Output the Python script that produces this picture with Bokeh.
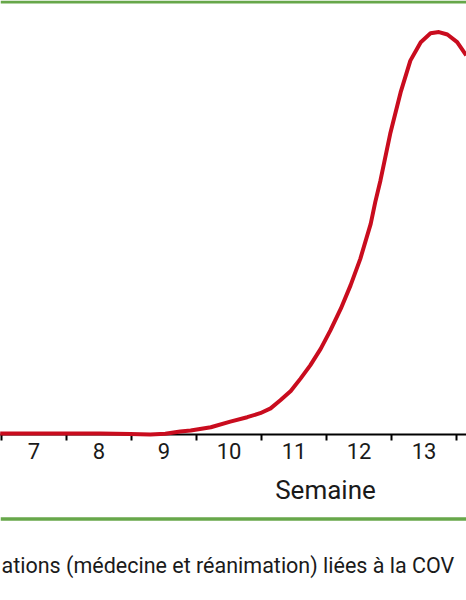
from bokeh.plotting import figure
from bokeh.models import Range1d, LinearAxis, FixedTicker, Span
from bokeh.layouts import column
from bokeh.embed import file_html
from bokeh.resources import INLINE
from bokeh.core.properties import value

# ---------------- data ----------------
weeks = [6.48, 6.95, 7.48, 8.02, 8.48, 8.79, 9.02, 9.25, 9.41, 9.72, 10.02, 10.28,
         10.48, 10.64, 10.79, 10.95, 11.1, 11.25, 11.41, 11.56, 11.72, 11.87, 12.02,
         12.18, 12.25, 12.33, 12.48, 12.64, 12.79, 12.95, 13.1, 13.23, 13.36, 13.51,
         13.65]
hospitalisations = [0.25, 0.25, 0.25, 0.25, 0.1, 0.0, 0.2, 0.75, 1.0, 1.8, 3.2, 4.3,
                    5.3, 6.5, 8.5, 10.8, 13.9, 17.2, 21.3, 25.9, 31.3, 37.1, 43.7,
                    52.4, 57.8, 63.2, 74.8, 85.1, 93.0, 97.6, 99.8, 100.1, 99.5, 97.6,
                    94.3]
week_ticks = [7, 8, 9, 10, 11, 12, 13]
week_labels = ["7", "8", "9", "10", "11", "12", "13"]
week_bounds = [6.5, 7.5, 8.5, 9.5, 10.5, 11.5, 12.5, 13.5]
x_title = "Semaine"
caption = "ations (médecine et réanimation) liées à la COV"

# ---------------- style ----------------
RED = "#c90c1e"
GREEN = "#67a74a"
INK = "#1a1a1a"
FONT = "Roboto"

W = 466
PX_PER_WEEK = 65.0
X0 = 6.5 - 1.0 / PX_PER_WEEK
X1 = X0 + W / PX_PER_WEEK
xr = Range1d(X0, X1)

FRAME_H = 434          # frame bottom = axis line
PANEL_B = 40
PX_PER_UNIT = 4.02
Y1 = FRAME_H / PX_PER_UNIT

pa = figure(width=W, height=FRAME_H + PANEL_B, x_range=xr, y_range=Range1d(0, Y1),
            x_axis_type=None, y_axis_type=None, toolbar_location=None,
            output_backend="svg", min_border_left=0, min_border_right=0,
            min_border_top=0, min_border_bottom=PANEL_B, outline_line_color=None)

ax = LinearAxis(ticker=FixedTicker(ticks=week_ticks, minor_ticks=week_bounds),
                major_label_overrides={t: l for t, l in zip(week_ticks, week_labels)})
ax.axis_line_color = "black"
ax.axis_line_width = 2
ax.major_tick_in = 0
ax.major_tick_out = 0
ax.minor_tick_in = 0
ax.minor_tick_out = 6
ax.minor_tick_line_color = "black"
ax.minor_tick_line_width = 2
ax.major_label_standoff = 2
ax.major_label_text_font = FONT
ax.major_label_text_font_size = "22px"
ax.major_label_text_color = INK
pa.add_layout(ax, "below")

pa.add_layout(Span(location=(FRAME_H - 1.6) / PX_PER_UNIT, dimension="width",
                   line_color=GREEN, line_width=3))

pa.line(weeks, hospitalisations, line_color=RED, line_width=4, line_join="round",
        level="overlay")

TOP_B = FRAME_H + PANEL_B
HB = 600 - TOP_B
pb = figure(width=W, height=HB, x_range=xr, y_range=Range1d(HB, 0),
            x_axis_type=None, y_axis_type=None, toolbar_location=None,
            output_backend="svg", min_border=0, outline_line_color=None)

pb.text(x=[6.5 + 324.0 / PX_PER_WEEK], y=[489 - TOP_B], text=[x_title],
        text_align="center", text_baseline="alphabetic", text_font=value(FONT),
        text_font_size="26px", text_color=INK)
pb.add_layout(Span(location=518.5 - TOP_B, dimension="width", line_color=GREEN,
                   line_width=3.5))
pb.text(x=[6.5 + 0.0 / PX_PER_WEEK], y=[565 - TOP_B], text=[caption], text_align="left",
        text_baseline="alphabetic", text_font=value(FONT), text_font_size="21.5px",
        text_color=INK)

layout = column(pa, pb, spacing=0)
open("out.html", "w").write(file_html(layout, INLINE))
